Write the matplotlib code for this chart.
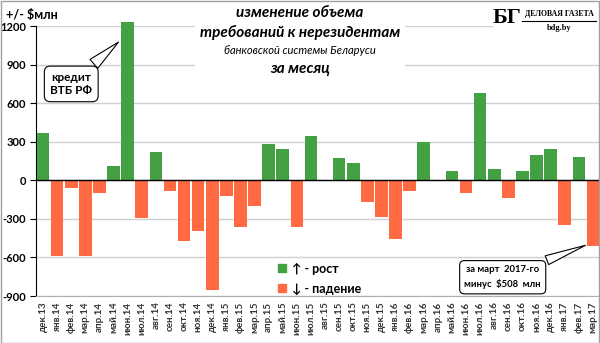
import numpy as np
import matplotlib
matplotlib.use("Agg")
import matplotlib.pyplot as plt
from matplotlib.patches import Patch, Rectangle
from matplotlib.lines import Line2D

months = ["дек.13",
          "янв.14", "фев.14", "мар.14", "апр.14", "май.14", "июн.14",
          "июл.14", "авг.14", "сен.14", "окт.14", "ноя.14", "дек.14",
          "янв.15", "фев.15", "мар.15", "апр.15", "май.15", "июн.15",
          "июл.15", "авг.15", "сен.15", "окт.15", "ноя.15", "дек.15",
          "янв.16", "фев.16", "мар.16", "апр.16", "май.16", "июн.16",
          "июл.16", "авг.16", "сен.16", "окт.16", "ноя.16", "дек.16",
          "янв.17", "фев.17", "мар.17"]
values = [365,
          -590, -60, -590, -100, 115, 1235,
          -295, 220, -80, -475, -395, -855,
          -120, -365, -200, 285, 245, -360,
          345, 0, 175, 135, -170, -285,
          -460, -85, 295, 0, 70, -95,
          680, 90, -135, 70, 195, 240,
          -345, 185, -508]
yticks = [-900, -600, -300, 0, 300, 600, 900, 1200]

GREEN = "#43a043"
RED = "#ff6a42"
FONT = ["Lato", "DejaVu Sans"]
plt.rcParams["font.family"] = FONT

fig = plt.figure(figsize=(6, 3.43), dpi=100)
ax = fig.add_axes([0.06, 0.137, 0.94, 0.787])

x = np.arange(len(values))
colors = [GREEN if v >= 0 else RED for v in values]
ax.bar(x, values, width=0.9, color=colors, zorder=3, clip_on=False)

ax.set_xlim(-0.5, len(values) - 0.5)
ax.set_ylim(-900, 1200)
ax.set_yticks(yticks)
ax.set_yticklabels([str(t) for t in yticks], fontsize=8, fontweight="bold")
ax.set_xticks(x)
ax.set_xticklabels(months, rotation=90, fontsize=7, fontweight="bold", color="#333333")
ax.tick_params(axis="x", length=0, pad=4)
ax.tick_params(axis="y", length=4, width=0.8, pad=3)
ax.grid(axis="y", color="#d0d0d0", linewidth=1, zorder=0)
ax.axhline(0, color="black", linewidth=1, zorder=4)
for s in ["top", "right"]:
    ax.spines[s].set_visible(False)
ax.spines["left"].set_color("black")
ax.spines["bottom"].set_color("#b0b0b0")

fig.text(0.01, 0.955, "+/- $млн", fontsize=9, fontweight="bold", ha="left", va="center")

# title block
fig.add_artist(Rectangle((0.325, 0.77), 0.35, 0.23, transform=fig.transFigure,
                         facecolor="white", edgecolor="none", zorder=5))
title_lines = [("изменение объема", 0.962, 11, "bold"),
               ("требований к нерезидентам", 0.905, 11, "bold"),
               ("банковской системы Беларуси", 0.853, 8, "normal"),
               ("за месяц", 0.800, 11, "bold")]
for txt, yy, fs, fw in title_lines:
    fig.text(0.5, yy, txt, fontsize=fs, fontweight=fw, style="italic",
             ha="center", va="center", zorder=6)

# logo
fig.add_artist(Rectangle((0.822, 0.905), 0.178, 0.095, transform=fig.transFigure,
                         facecolor="white", edgecolor="none", zorder=5))
fig.text(0.845, 0.948, "БГ", family="Liberation Serif", fontsize=16, fontweight="bold",
         ha="center", va="center", zorder=6)
fig.text(0.932, 0.958, "ДЕЛОВАЯ ГАЗЕТА", family="Liberation Serif", fontsize=5.6,
         fontweight="bold", ha="center", va="center", zorder=6)
fig.add_artist(Line2D([0.87, 0.993], [0.938, 0.938], transform=fig.transFigure,
                      color="black", linewidth=0.8, zorder=6))
fig.text(0.932, 0.918, "bdg.by", family="Liberation Serif", fontsize=6,
         fontweight="bold", ha="center", va="center", zorder=6)

# callouts
wedge = dict(arrowstyle="wedge,tail_width=1.0,shrink_factor=0.5",
             fc="white", ec="black", lw=0.8)
ax.annotate("кредит\nВТБ РФ", xy=(5.5, 1090), xytext=(2.0, 750),
            fontsize=8.5, fontweight="bold", ha="center", va="center", zorder=7,
            bbox=dict(boxstyle="round,pad=0.5", fc="white", ec="black", lw=0.8),
            arrowprops=wedge)
ax.annotate("за март  2017-го\nминус  $508  млн", xy=(38.65, -498), xytext=(32.6, -754),
            fontsize=6.8, fontweight="bold", ha="center", va="center", zorder=7,
            annotation_clip=False, linespacing=1.6,
            bbox=dict(boxstyle="round,pad=0.5", fc="white", ec="black", lw=0.8),
            arrowprops=wedge)

handles = [Patch(color=GREEN, label="↑ - рост"), Patch(color=RED, label="↓ - падение")]
leg = fig.legend(handles=handles, loc="center left", bbox_to_anchor=(0.445, 0.188),
                 frameon=False, handlelength=0.6, handleheight=0.6, handletextpad=0.5,
                 labelspacing=0.6, prop={"size": 9, "weight": "bold", "family": FONT})

fig.add_artist(Rectangle((0.001, 0.001), 0.998, 0.997, transform=fig.transFigure,
                         fill=False, edgecolor="#a0a0a0", linewidth=1, zorder=10))

fig.savefig("out.png", dpi=100)
